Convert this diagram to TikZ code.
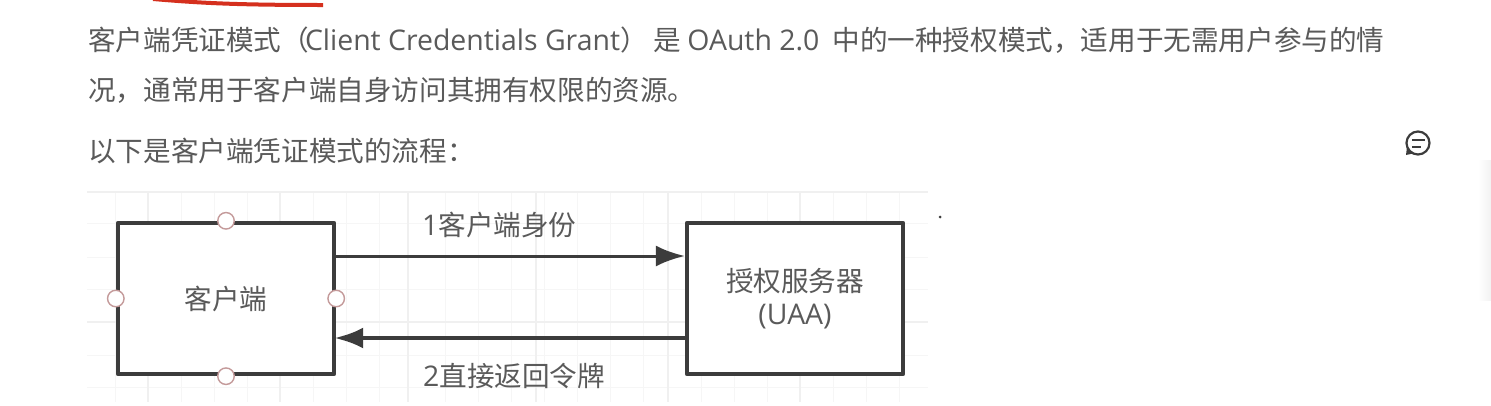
\documentclass[tikz,border=0pt]{standalone}
\usepackage{fontspec}
\setmainfont{Noto Sans CJK SC}
\newfontfamily\latinfont[Scale=1.03]{Open Sans}
\newcommand{\lat}[1]{{\latinfont #1}}
\usetikzlibrary{arrows.meta}
\definecolor{txt}{HTML}{5A5A5A}
\definecolor{dark}{HTML}{3C3C3C}
\definecolor{gridc}{HTML}{F6F6F6}
\definecolor{gridm}{HTML}{F0F0F0}
\definecolor{pinkc}{HTML}{C49A9A}
\definecolor{redc}{HTML}{D5301E}
\tikzset{
  x=1pt,y=-1pt,
  para/.style={anchor=west,inner sep=0pt,text=txt,font=\fontsize{27.6}{32}\selectfont},
  lbl/.style={inner sep=0pt,text=txt,font=\fontsize{27.6}{35}\selectfont,align=center},
  boxn/.style={draw=dark,line width=4.4pt,fill=white,minimum width=216pt,minimum height=151pt,inner sep=0pt,line join=round},
  port/.style={circle,draw=pinkc,line width=1.4pt,fill=white,minimum size=16.5pt,inner sep=0pt},
  flowa/.style={draw=dark,-{Latex[length=29pt,width=21pt]}},
  gmin/.style={draw=gridc,line width=1pt},
  gmaj/.style={draw=gridm,line width=1.5pt}
}
\begin{document}
\begin{tikzpicture}
\useasboundingbox (0,0) rectangle (1491,405);
\fill[white] (0,0) rectangle (1491,405);
% right edge shade
\shade[left color=white,right color=black!5] (1478,160) rectangle (1491,300);
% red stroke
\draw[redc,line width=4pt] (153,-1) .. controls (200,3) and (235,5) .. (323,5);
% grid
\foreach \x in {115,181,214,247,313,346,379,445,478,511,544,577,610,643,701,734,767,833,866,899}
  \draw[gmin] (\x,192) -- (\x,402);
\foreach \y in {223,257,289,355,387}
  \draw[gmin] (87,\y) -- (928,\y);
\foreach \x in {148,280,408,536,668,800}
  \draw[gmaj] (\x,192) -- (\x,402);
\foreach \y in {192,322}
  \draw[gmaj] (87,\y) -- (928,\y);
% text
\node[para] (l1) at (88,40) {客户端凭证模式（\hspace{-4pt}\lat{Client Credentials Grant}）\hspace{6pt}是\hspace{0pt} \lat{OAuth 2.0} \hspace{7pt}中的一种授权模式，适用于无需用户参与的情};
\node[para] (l2) at (88,90) {况，通常用于客户端自身访问其拥有权限的资源。};
\node[para] (l3) at (88,151) {以下是客户端凭证模式的流程：};
% boxes
\node[boxn,lbl] (client) at (226,298.5) {客户端};
\node[boxn,lbl] (uaa) at (795,298.5) {授权服务器\\[-2pt]\lat{(UAA)}};
% ports
\node[port] (pt) at (client.north) {};
\node[port] (pb) at (client.south) {};
\node[port] (pl) at (client.west) {};
\node[port] (pr) at (client.east) {};
% connectors
\coordinate (a1) at (client.east |- 0,256);
\coordinate (a2) at (uaa.west |- 0,256);
\coordinate (b1) at (uaa.west |- 0,338);
\coordinate (b2) at ([xshift=-2pt]client.east |- 0,338);
\draw[flowa,line width=3pt] (a1) -- (a2);
\draw[flowa,line width=4.5pt] (b1) -- (b2);
\node[lbl,anchor=west] (t1) at (422,225) {\lat{1}客户端身份};
\node[lbl,anchor=west] (t2) at (423,376) {\lat{2}直接返回令牌};
% stray dot
\fill[dark] (940,217) circle (1.5pt);
% comment icon
\draw[dark,line width=2.2pt,line join=round] (1418,143) circle (11.5);
\fill[dark] (1406,155) -- (1407,147) -- (1413,153.5) -- cycle;
\draw[dark,line width=2pt] (1412,140) -- (1425,140) (1412,147) -- (1421,147);
\end{tikzpicture}
\end{document}
